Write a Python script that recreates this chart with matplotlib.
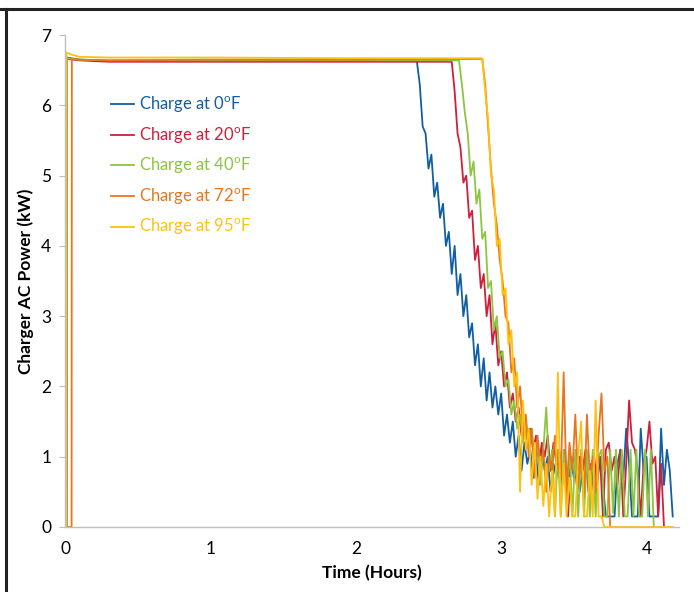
import matplotlib
matplotlib.use('Agg')
import matplotlib.pyplot as plt
import numpy as np
from matplotlib.lines import Line2D

plt.rcParams['font.family'] = ['Lato', 'DejaVu Sans']

# ---------------------------- DATA ----------------------------
labels = ['Charge at 0$^\\mathregular{o}$F', 'Charge at 20$^\\mathregular{o}$F',
          'Charge at 40$^\\mathregular{o}$F', 'Charge at 72$^\\mathregular{o}$F',
          'Charge at 95$^\\mathregular{o}$F']
colores = ['#125EA3', '#D01F3C', '#8CC53F', '#E8761E', '#FFC10E']

dt = 0.02  # sampling step of the noisy part [h]

# start-up + constant power part: (time, kW)
blue_head_t = [0.0, 0.01, 0.012, 0.1, 0.3, 1.0, 2.0, 2.42]
blue_head_v = [0.0, 0.0, 6.68, 6.65, 6.63, 6.63, 6.63, 6.63]
red_head_t = [0.0, 0.01, 0.012, 0.1, 0.3, 1.0, 2.0, 2.66]
red_head_v = [0.0, 0.0, 6.66, 6.64, 6.62, 6.62, 6.62, 6.62]
green_head_t = [0.0, 0.01, 0.012, 0.1, 0.3, 1.0, 2.0, 2.71]
green_head_v = [0.0, 0.0, 6.67, 6.65, 6.64, 6.64, 6.64, 6.64]
orange_head_t = [0.0, 0.045, 0.047, 0.1, 0.3, 1.0, 2.0, 2.87]
orange_head_v = [0.0, 0.0, 6.66, 6.65, 6.64, 6.65, 6.65, 6.66]
yellow_head_t = [0.0, 0.008, 0.01, 0.05, 0.1, 0.3, 1.0, 2.0, 2.87]
yellow_head_v = [0.0, 0.0, 6.75, 6.72, 6.69, 6.68, 6.68, 6.67, 6.67]

# noisy decay, first sample at head end + dt
blue_v = [6.3, 5.7, 5.6, 5.1, 5.3, 4.7, 4.9, 4.4, 4.6, 4.0, 4.2, 3.6, 4.0, 3.3, 3.6,
          3.0, 3.3, 2.7, 2.9, 2.3, 2.6, 2.0, 2.4, 1.8, 2.2, 1.7, 2.0, 1.6, 1.9, 1.3,
          1.6, 1.2, 1.5, 1.0, 1.3, 0.8, 1.2, 0.9, 1.1, 0.7, 1.0, 0.6, 1.1, 0.8, 1.0,
          0.5, 0.9, 0.7, 1.0, 0.6, 0.9, 0.5, 1.0, 0.7, 0.9, 0.5, 0.8, 1.0, 0.6, 0.9,
          0.4, 0.8, 1.0, 0.6, 0.15, 0.15, 0.15, 0.15, 0.9, 1.1, 0.7, 1.4, 0.9, 0.15,
          0.15, 0.15, 1.4, 0.8, 1.0, 0.15, 0.15, 0.15, 0.15, 1.4, 0.6, 1.1, 0.8, 0.15]
red_v = [6.2, 5.6, 5.4, 4.9, 5.0, 4.4, 4.5, 3.8, 4.0, 3.4, 3.6, 3.0, 3.3, 2.6, 2.9,
         2.3, 2.5, 2.0, 2.2, 1.7, 1.9, 1.5, 1.7, 1.3, 1.5, 1.2, 1.4, 1.1, 1.3, 0.9,
         1.2, 1.0, 1.3, 0.8, 1.2, 0.9, 1.1, 0.7, 1.1, 0.15, 0.9, 1.0, 0.6, 1.0, 0.8,
         1.1, 0.5, 0.9, 1.0, 0.6, 1.0, 0.15, 1.1, 1.2, 0.8, 1.0, 0.6, 1.1, 0.15, 0.9,
         1.8, 1.2, 1.1, 0.8, 0.15, 0.9, 1.1, 1.5, 0.9, 1.0, 0.15, 0.9, 0.0]
green_v = [6.3, 5.9, 5.6, 5.0, 5.2, 4.6, 4.8, 4.1, 4.2, 3.4, 3.5, 2.8, 3.0, 2.4, 2.5,
           2.0, 2.1, 1.6, 1.8, 1.4, 1.6, 1.2, 1.5, 1.1, 1.4, 0.9, 1.2, 0.6, 1.1, 1.7,
           0.8, 1.1, 0.15, 1.1, 0.15, 1.1, 0.4, 1.1, 0.15, 1.1, 0.15, 1.1, 0.15, 1.1,
           0.15, 1.1, 0.15, 1.0, 1.1, 0.15, 0.15, 1.1, 0.2, 1.1, 0.15, 1.1, 0.15, 0.15,
           1.1, 0.15, 1.1, 0.15, 0.15, 1.1, 0.15, 1.1, 0.0]
orange_v = [6.3, 5.7, 5.1, 4.6, 4.3, 3.8, 3.5, 3.0, 2.9, 2.2, 2.4, 1.7, 2.0, 1.3, 1.6,
            1.0, 1.4, 0.7, 1.3, 0.9, 1.1, 0.5, 1.0, 0.8, 1.3, 0.9, 0.7, 2.2, 0.5, 1.2,
            0.8, 1.6, 0.6, 1.0, 0.4, 1.6, 0.7, 1.0, 0.5, 1.3, 1.9, 0.8, 1.0, 0.0]
yellow_v = [6.2, 5.8, 5.0, 4.8, 4.0, 4.1, 3.3, 3.4, 2.6, 2.8, 2.0, 2.2, 0.5, 1.8, 1.1,
            1.4, 0.6, 1.2, 0.4, 1.0, 0.3, 0.9, 0.15, 0.8, 0.15, 2.2, 0.15, 0.9, 0.15,
            0.7, 0.15, 0.15, 1.0, 1.5, 0.15, 0.15, 0.8, 0.15, 1.8, 0.15, 0.15, 0.0]
yellow_tail_t = [4.18]
yellow_tail_v = [0.0]


def armar_serie(head_t, head_v, ruido, tail_t=(), tail_v=()):
    t_ruido = head_t[-1] + dt * np.arange(1, len(ruido) + 1)
    t = np.concatenate([head_t, t_ruido, tail_t])
    v = np.concatenate([head_v, ruido, tail_v])
    return t, v


series = [armar_serie(blue_head_t, blue_head_v, blue_v),
          armar_serie(red_head_t, red_head_v, red_v),
          armar_serie(green_head_t, green_head_v, green_v),
          armar_serie(orange_head_t, orange_head_v, orange_v),
          armar_serie(yellow_head_t, yellow_head_v, yellow_v, yellow_tail_t, yellow_tail_v)]

# ---------------------------- FIGURE ----------------------------
fig = plt.figure(figsize=(6.94, 5.92), dpi=100)
ax = fig.add_axes([0.0937, 0.1098, 0.884, 0.831])

for (t, v), lab, c in zip(series, labels, colores):
    ax.plot(t, v, color=c, linewidth=1.3, label=lab)

ax.set_xlim(0, 4.22)
ax.set_ylim(0, 7)
ax.set_xticks([0, 1, 2, 3, 4])
ax.set_yticks(range(0, 8))
for s in ['top', 'right']:
    ax.spines[s].set_visible(False)
for s in ['left', 'bottom']:
    ax.spines[s].set_color('#BFBFBF')
    ax.spines[s].set_linewidth(1.0)
ax.tick_params(axis='y', length=4, color='#BFBFBF', labelsize=12.5, pad=6)
ax.tick_params(axis='x', length=0, labelsize=12.5, pad=10)

ax.set_xlabel('Time (Hours)', fontsize=12.5, fontweight='bold', labelpad=6)
ax.set_ylabel('Charger AC Power (kW)', fontsize=12.5, fontweight='bold', labelpad=5)

leg = ax.legend(loc='upper left', bbox_to_anchor=(0.075, 0.879), frameon=False,
                fontsize=12, handlelength=1.4, handletextpad=0.3, labelspacing=0.62,
                borderpad=0, borderaxespad=0, labelcolor='linecolor')

# marco negro de la captura (arriba e izquierda)
fig.add_artist(Line2D([0.0, 1.0], [0.985, 0.985], transform=fig.transFigure,
                      color='#222222', linewidth=2.2))
fig.add_artist(Line2D([0.008, 0.008], [0.0, 0.985], transform=fig.transFigure,
                      color='#222222', linewidth=2.2))

fig.savefig('out.png', dpi=100)
